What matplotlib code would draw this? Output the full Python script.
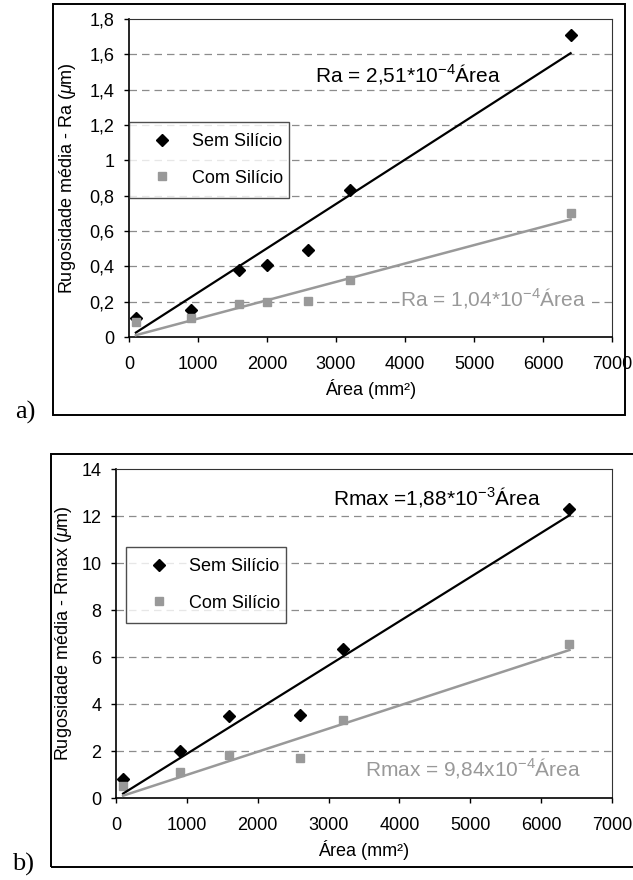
import numpy as np
import matplotlib
matplotlib.use('Agg')
import matplotlib.pyplot as plt
from matplotlib.patches import Rectangle

plt.rcParams['font.family'] = ['Liberation Sans', 'DejaVu Sans']
plt.rcParams['mathtext.fontset'] = 'custom'
plt.rcParams['mathtext.rm'] = 'Liberation Sans'
plt.rcParams['mathtext.it'] = 'Liberation Sans:italic'
plt.rcParams['font.size'] = 13

# a) rugosidade media Ra
area_a = [100, 900, 1600, 2000, 2600, 3200, 6400]
ra_sem = [0.105, 0.155, 0.377, 0.407, 0.495, 0.832, 1.711]
ra_com = [0.083, 0.11, 0.188, 0.196, 0.206, 0.322, 0.70]
coef_ra_sem = 2.51e-4
coef_ra_com = 1.04e-4

# b) rugosidade Rmax
area_b = [100, 900, 1600, 2600, 3200, 6400]
rmax_sem = [0.79, 1.98, 3.47, 3.52, 6.35, 12.28]
rmax_com = [0.51, 1.09, 1.81, 1.71, 3.31, 6.55]
coef_rmax_sem = 1.88e-3
coef_rmax_com = 9.84e-4

xticks = [0, 1000, 2000, 3000, 4000, 5000, 6000, 7000]
yticks_a = [0, 0.2, 0.4, 0.6, 0.8, 1.0, 1.2, 1.4, 1.6, 1.8]
ylabels_a = ['0', '0,2', '0,4', '0,6', '0,8', '1', '1,2', '1,4', '1,6', '1,8']
yticks_b = [0, 2, 4, 6, 8, 10, 12, 14]
ylabels_b = ['0', '2', '4', '6', '8', '10', '12', '14']

GRAY = '#999999'
W, H = 633, 880


def px_box(x0, y0, x1, y1):
    # pixel box (from top-left) -> figure fraction [left, bottom, width, height]
    return [x0 / W, 1 - y1 / H, (x1 - x0) / W, (y1 - y0) / H]


def panel(ax, area, sem, com, k_sem, k_com, yticks, ylabels, ylabel, leg_px):
    area = np.array(area)
    ax.set_xlim(0, 7000)
    ax.set_ylim(yticks[0], yticks[-1])
    ax.set_xticks(xticks)
    ax.set_xticklabels([str(t) for t in xticks])
    ax.set_yticks(yticks)
    ax.set_yticklabels(ylabels)
    ax.tick_params(direction='out', length=3.6, width=1, labelsize=13)
    ax.tick_params(axis='x', pad=10)
    ax.tick_params(axis='y', pad=7)
    for gy in yticks[1:-1]:
        ax.axhline(gy, color='#8c8c8c', lw=0.9, dashes=(6, 4), zorder=1)
    for s in ['left', 'bottom']:
        ax.spines[s].set_linewidth(1.2)
    for s in ['top', 'right']:
        ax.spines[s].set_linewidth(0.8)
        ax.spines[s].set_color('#333333')

    h1, = ax.plot(area, sem, 'D', color='black', ms=6, ls='none', zorder=3, label='Sem Silício')
    h2, = ax.plot(area, com, 's', color=GRAY, ms=5.8, ls='none', zorder=3, label='Com Silício')
    xf = np.array([area[0], area[-1]])
    ax.plot(xf, k_sem * xf, color='black', lw=1.6, zorder=4)
    ax.plot(xf, k_com * xf, color=GRAY, lw=1.8, zorder=4)

    ax.set_xlabel('Área (mm²)', fontsize=13)
    ax.set_ylabel(ylabel, fontsize=13)

    x0, y0, x1 = leg_px
    leg = ax.legend(handles=[h1, h2], loc='upper left', mode='expand',
                    bbox_to_anchor=(x0 / W, 1 - y0 / H, (x1 - x0) / W, 0),
                    bbox_transform=ax.figure.transFigure, borderaxespad=0,
                    frameon=True, fancybox=False, borderpad=0.6, labelspacing=1.1,
                    handlelength=2.4, handletextpad=0.5, fontsize=13)
    leg.get_frame().set_edgecolor('#222222')
    leg.get_frame().set_linewidth(1.0)
    leg.set_zorder(5)


fig = plt.figure(figsize=(W / 100, H / 100), dpi=100)

ax_a = fig.add_axes(px_box(129, 19, 612, 337))
panel(ax_a, area_a, ra_sem, ra_com, coef_ra_sem, coef_ra_com, yticks_a, ylabels_a,
      r'Rugosidade média - Ra ($\mu$m)', (129, 122, 289))
ax_a.yaxis.set_label_coords(-0.106, 0.5)
ax_a.xaxis.set_label_coords(0.5, -0.132)
ax_a.text(2700, 1.488, r'Ra = 2,51*10$^{-4}$Área', fontsize=15, va='center', zorder=6)
ax_a.text(3930, 0.22, r'Ra = 1,04*10$^{-4}$Área', fontsize=15, va='center', color=GRAY, zorder=6,
          bbox=dict(facecolor='white', edgecolor='none', pad=0.5))

ax_b = fig.add_axes(px_box(116, 469, 612, 798))
panel(ax_b, area_b, rmax_sem, rmax_com, coef_rmax_sem, coef_rmax_com, yticks_b, ylabels_b,
      r'Rugosidade média - Rmax ($\mu$m)', (126, 547, 286))
ax_b.yaxis.set_label_coords(-0.085, 0.5)
ax_b.xaxis.set_label_coords(0.5, -0.128)
ax_b.text(3060, 12.8, r'Rmax =1,88*10$^{-3}$Área', fontsize=15, va='center', zorder=6)
ax_b.text(3515, 1.28, r'Rmax = 9,84x10$^{-4}$Área', fontsize=15, va='center', color=GRAY, zorder=6,
          bbox=dict(facecolor='white', edgecolor='none', pad=0.5))

# frames around each chart
for x0, y0, x1, y1 in [(53, 4, 625, 415), (51, 454, 650, 867)]:
    l, b, w, h = px_box(x0, y0, x1, y1)
    fig.patches.append(Rectangle((l, b), w, h, transform=fig.transFigure, fill=False,
                                 edgecolor='black', lw=1.4))

fig.text(25 / W, 1 - 412 / H, 'a)', family='Liberation Serif', fontsize=19, ha='center', va='center')
fig.text(23 / W, 1 - 864 / H, 'b)', family='Liberation Serif', fontsize=19, ha='center', va='center')

fig.savefig('out.png', dpi=100)
